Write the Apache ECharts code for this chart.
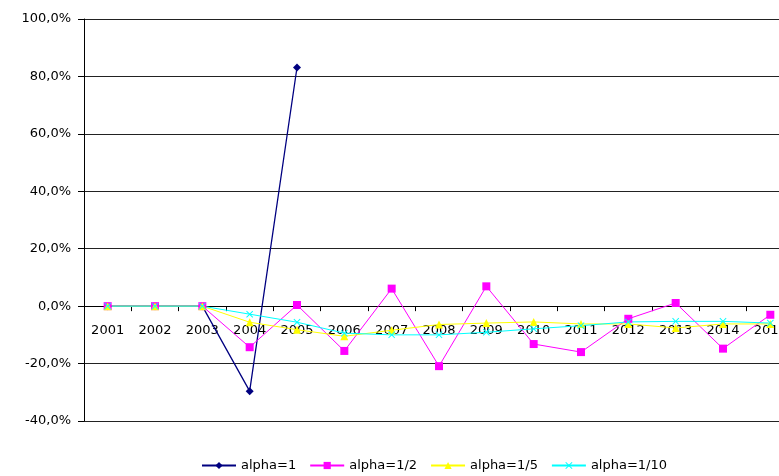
<!DOCTYPE html>
<html>
<head>
<meta charset="utf-8">
<script src="https://cdn.jsdelivr.net/npm/echarts@6/dist/echarts.min.js"></script>
<style>
html,body{margin:0;padding:0;background:#fff;}
#chart{width:779px;height:476px;}
</style>
</head>
<body>
<div id="chart"></div>
<script>
const years = ['2001','2002','2003','2004','2005','2006','2007','2008','2009','2010','2011','2012','2013','2014','2015'];
const alpha1   = [0, 0, 0, -29.6, 83.1, null, null, null, null, null, null, null, null, null, null];
const alpha1_2 = [0, 0, 0, -14.3, 0.4, -15.6, 6.1, -20.9, 6.9, -13.2, -16.0, -4.4, 1.1, -14.8, -3.0];
const alpha1_5 = [0, 0, 0, -5.6, -8.2, -10.5, -8.4, -6.4, -5.9, -5.5, -6.2, -6.2, -7.6, -6.2, -6.2];
const alpha1_10= [0, 0, 0, -2.8, -5.6, -9.4, -10.0, -10.0, -9.1, -7.9, -6.8, -5.5, -5.3, -5.3, -5.9];
const seriesNames = ['alpha=1', 'alpha=1/2', 'alpha=1/5', 'alpha=1/10'];
const yTicks = {min: -40, max: 100, interval: 20};

const FONT = 'DejaVu Sans';
const xSymbol = 'path://M0,1L1,0L5,4L9,0L10,1L6,5L10,9L9,10L5,6L1,10L0,9L4,5Z';

const chart = echarts.init(document.getElementById('chart'));
function mk(name, data, color, symbol, size, width) {
  return {
    name: name, type: 'line', data: data,
    symbol: symbol, symbolSize: size, showSymbol: true,
    connectNulls: false,
    lineStyle: {color: color, width: width},
    itemStyle: {color: color, borderWidth: 0},
    emphasis: {disabled: true}
  };
}
chart.setOption({
  animation: false,
  backgroundColor: '#fff',
  grid: {left: 84, top: 19, width: 710, bottom: 55, containLabel: false, outerBoundsMode: 'none'},
  legend: {
    left: 196, top: 454,
    itemWidth: 34, itemHeight: 9, itemGap: 13,
    textStyle: {fontFamily: FONT, fontSize: 13, color: '#000'},
    data: seriesNames
  },
  xAxis: {
    type: 'category', data: years, boundaryGap: true,
    axisLine: {onZero: true, lineStyle: {color: '#000', width: 1}},
    axisTick: {show: true, length: 5, lineStyle: {color: '#000'}},
    axisLabel: {interval: 0, margin: -97, fontFamily: FONT, fontSize: 13, color: '#000'},
    splitLine: {show: false}
  },
  yAxis: {
    type: 'value', min: yTicks.min, max: yTicks.max, interval: yTicks.interval,
    axisLine: {show: true, lineStyle: {color: '#000', width: 1}},
    axisTick: {show: true, length: 6, lineStyle: {color: '#000'}},
    axisLabel: {margin: 13, fontFamily: FONT, fontSize: 13, color: '#000',
      formatter: v => v.toFixed(1).replace('.', ',') + '%'},
    splitLine: {show: true, lineStyle: {color: '#222', width: 1}}
  },
  series: [
    mk(seriesNames[0], alpha1, '#000080', 'diamond', 8, 1.3),
    mk(seriesNames[1], alpha1_2, '#FF00FF', 'rect', 8, 1),
    mk(seriesNames[2], alpha1_5, '#FFFF00', 'triangle', 8, 1),
    mk(seriesNames[3], alpha1_10, '#00FFFF', xSymbol, 7, 1)
  ]
});
</script>
</body>
</html>
